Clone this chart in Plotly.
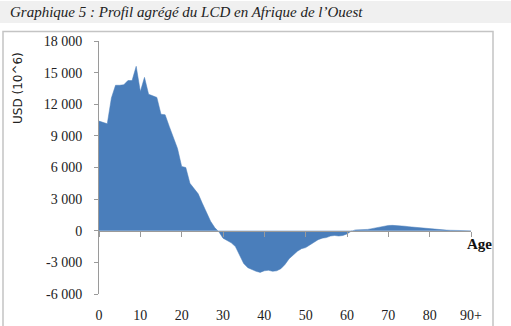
import plotly.graph_objects as go

ages = list(range(0, 91))
values = [
    10400, 10300, 10150, 12600, 13800, 13800, 13850, 14250, 14250, 15600,
    13200, 14550, 12950, 12800, 12650, 11050, 11000, 9900, 8800, 7800,
    6100, 6000, 4500, 4000, 3500, 2600, 1800, 900, 300, -100,
    -700, -950, -1150, -1500, -2300, -3100, -3500, -3700, -3850, -3950,
    -3800, -3750, -3850, -3800, -3600, -3200, -2650, -2300, -1950, -1700,
    -1600, -1350, -1100, -850, -700, -650, -500, -450, -500, -450,
    -300, -50, 80, 100, 60, 130, 200, 280, 400, 470,
    500, 510, 500, 470, 430, 380, 340, 300, 260, 220,
    180, 150, 120, 90, 60, 45, 30, 20, 10, 5,
    0,
]
x_tickvals = [0, 10, 20, 30, 40, 50, 60, 70, 80, 90]
x_ticktext = ["0", "10", "20", "30", "40", "50", "60", "70", "80", "90+"]
y_tickvals = [-6000, -3000, 0, 3000, 6000, 9000, 12000, 15000, 18000]
y_ticktext = ["-6 000", "-3 000", "0", "3 000", "6 000", "9 000", "12 000", "15 000", "18 000"]

title_text = "Graphique 5 : Profil agrégé du LCD en Afrique de l’Ouest"
ytitle = "USD (10^6)"
xtitle = "Age"

W, H = 511, 326
L, R, T, B = 99, 40, 41, 32
pw, ph = W - L - R, H - T - B

def px(xp):
    return (xp - L) / pw

def py(yp):
    return (H - B - yp) / ph

fig = go.Figure()
# invisible copy on the bottom axis so that its tick labels are drawn
fig.add_trace(go.Scatter(
    x=ages, y=values, xaxis="x", yaxis="y",
    mode="lines", line=dict(width=0), opacity=0,
    hoverinfo="skip", showlegend=False,
))
fig.add_trace(go.Scatter(
    x=ages, y=values, xaxis="x2", yaxis="y",
    mode="lines", fill="tozeroy",
    line=dict(color="#4a7ebb", width=0.5),
    fillcolor="#4a7ebb", hoverinfo="skip", showlegend=False,
))

tick_font = dict(family="Liberation Serif", size=14, color="#222")

fig.update_layout(
    width=W, height=H,
    margin=dict(l=L, r=R, t=T, b=B),
    paper_bgcolor="white", plot_bgcolor="white",
    showlegend=False,
    xaxis=dict(
        range=[0, 90], tickvals=x_tickvals, ticktext=x_ticktext,
        showgrid=False, zeroline=False, showline=False,
        ticks="outside", ticklen=8, tickcolor="rgba(0,0,0,0)",
        tickfont=tick_font, anchor="y", automargin=False,
    ),
    xaxis2=dict(
        range=[0, 90], tickvals=x_tickvals, showticklabels=False,
        overlaying="x", anchor="free", position=0.25,
        showgrid=False, zeroline=False, showline=True,
        linecolor="#9a9a9a", linewidth=1,
        ticks="outside", ticklen=5, tickcolor="#9a9a9a", automargin=False,
    ),
    yaxis=dict(
        range=[-6000, 18000], tickvals=y_tickvals, ticktext=y_ticktext,
        showgrid=False, zeroline=False, showline=True,
        linecolor="#9a9a9a", linewidth=1,
        ticks="outside", ticklen=4, tickcolor="#9a9a9a",
        ticklabelstandoff=9,
        tickfont=tick_font, automargin=False,
    ),
    shapes=[
        dict(type="rect", xref="paper", yref="paper",
             x0=px(0), x1=px(511), y0=py(23), y1=py(1),
             fillcolor="#f0f0f0", line=dict(width=0), layer="below"),
        dict(type="rect", xref="paper", yref="paper",
             x0=px(3), x1=px(493), y0=py(335), y1=py(31.5),
             fillcolor="rgba(0,0,0,0)", line=dict(color="#c4c4c4", width=1.5)),
    ],
    annotations=[
        dict(text=title_text, xref="paper", yref="paper",
             x=px(8), y=py(12), xanchor="left", yanchor="middle",
             showarrow=False,
             font=dict(family="Liberation Serif", size=15, color="#222", style="italic")),
        dict(text=ytitle, xref="paper", yref="paper",
             x=px(18), y=py(88), xanchor="center", yanchor="middle",
             textangle=-90, showarrow=False,
             font=dict(family="DejaVu Sans", size=12, color="#222")),
        dict(text="<b>" + xtitle + "</b>", xref="x2", yref="y",
             x=90, y=0, xanchor="center", yanchor="middle",
             xshift=8, yshift=-13, showarrow=False,
             font=dict(family="Liberation Serif", size=15, color="#111")),
    ],
)

fig.write_html("out.html")
